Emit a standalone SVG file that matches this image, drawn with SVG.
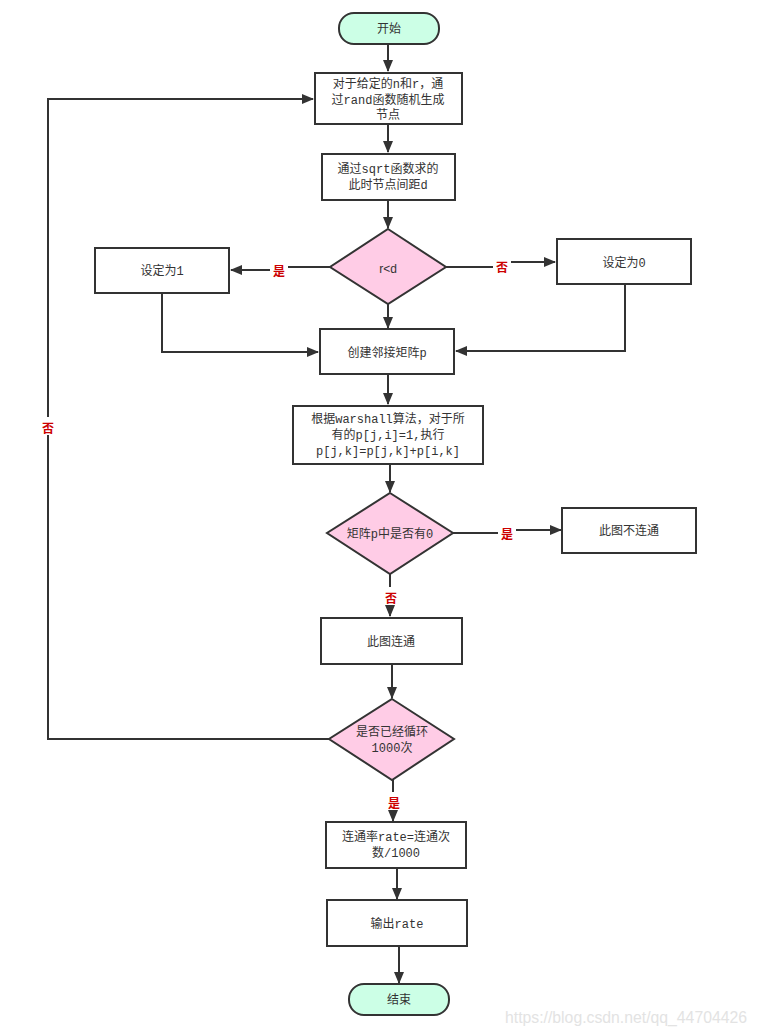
<svg xmlns="http://www.w3.org/2000/svg" width="758" height="1035" viewBox="0 0 758 1035">
<style>
.box{fill:#fff;stroke:#333;stroke-width:2}
.term{fill:#ccffe6;stroke:#333;stroke-width:2}
.dia{fill:#ffcce6;stroke:#333;stroke-width:2}
.t{font-family:"Liberation Mono","Noto Sans CJK SC",monospace;font-size:12px;fill:#333;text-anchor:middle;dominant-baseline:central;transform:translateY(1.5px)}
.s{font-family:"Liberation Sans","Noto Sans CJK SC",sans-serif;font-size:12px;fill:#333;text-anchor:middle;dominant-baseline:central;transform:translateY(1.5px)}
.lbl{font-family:"Noto Sans CJK SC",sans-serif;font-size:12px;font-weight:bold;fill:#cc0000;text-anchor:middle;dominant-baseline:central;transform:translateY(1px)}
.c{fill:none;stroke:#333;stroke-width:2}
.wm{font-family:"Liberation Sans",sans-serif;font-size:16px;fill:#e3e3e3}
</style>
<defs>
<marker id="ah" markerUnits="userSpaceOnUse" markerWidth="12" markerHeight="10" refX="11" refY="5" orient="auto">
<path d="M0,0 L12,5 L0,10 Z" fill="#333"/>
</marker>
</defs>
<g id="connectors">
<path class="c" d="M388,44 V71" marker-end="url(#ah)"/>
<path class="c" d="M388,124 V152" marker-end="url(#ah)"/>
<path class="c" d="M388,200 V228" marker-end="url(#ah)"/>
<path class="c" d="M330,267 H280 V270 H231" marker-end="url(#ah)"/>
<path class="c" d="M446,267 H502 V262 H555" marker-end="url(#ah)"/>
<path class="c" d="M388,304 V328" marker-end="url(#ah)"/>
<path class="c" d="M162,293 V352 H318" marker-end="url(#ah)"/>
<path class="c" d="M625,284 V351 H456" marker-end="url(#ah)"/>
<path class="c" d="M388,374 V404" marker-end="url(#ah)"/>
<path class="c" d="M390,464 V492" marker-end="url(#ah)"/>
<path class="c" d="M453,533 H507 V530 H561" marker-end="url(#ah)"/>
<path class="c" d="M390,574 V616" marker-end="url(#ah)"/>
<path class="c" d="M392,664 V698" marker-end="url(#ah)"/>
<path class="c" d="M329,739 H48 V99 H313" marker-end="url(#ah)"/>
<path class="c" d="M393,780 V821" marker-end="url(#ah)"/>
<path class="c" d="M397,868 V899" marker-end="url(#ah)"/>
<path class="c" d="M399,946 V983" marker-end="url(#ah)"/>
<rect x="270" y="260" width="18" height="18" fill="#fff"/>
<text class="lbl" x="279" y="269">是</text>
<rect x="493" y="256" width="18" height="18" fill="#fff"/>
<text class="lbl" x="502" y="265">否</text>
<rect x="498" y="523" width="18" height="18" fill="#fff"/>
<text class="lbl" x="507" y="532">是</text>
<rect x="382" y="587" width="18" height="18" fill="#fff"/>
<text class="lbl" x="391" y="596">否</text>
<rect x="39" y="417" width="18" height="18" fill="#fff"/>
<text class="lbl" x="48" y="426">否</text>
<rect x="385" y="792" width="18" height="18" fill="#fff"/>
<text class="lbl" x="394" y="801">是</text>
</g>
<g id="start"><rect class="term" x="339" y="13" width="100" height="31" rx="15" ry="15"/><text class="t" x="389" y="28">开始</text></g>
<g id="gen"><rect class="box" x="315" y="73" width="147" height="51"/><text class="t" x="388" y="83">对于给定的n和r，通</text><text class="t" x="388" y="99">过rand函数随机生成</text><text class="t" x="388" y="114">节点</text></g>
<g id="dist"><rect class="box" x="322" y="154" width="133" height="46"/><text class="t" x="388" y="168">通过sqrt函数求的</text><text class="t" x="388" y="184">此时节点间距d</text></g>
<g id="cmp"><polygon class="dia" points="388,229 446,267 388,304 330,267"/><text class="s" x="388" y="267">r&lt;d</text></g>
<g id="set1"><rect class="box" x="95" y="248" width="134" height="45"/><text class="t" x="162" y="270">设定为1</text></g>
<g id="set0"><rect class="box" x="557" y="239" width="134" height="45"/><text class="t" x="624" y="262">设定为0</text></g>
<g id="adj"><rect class="box" x="320" y="329" width="134" height="45"/><text class="t" x="387" y="352">创建邻接矩阵p</text></g>
<g id="warshall"><rect class="box" x="293" y="406" width="190" height="58"/><text class="t" x="388" y="418">根据warshall算法，对于所</text><text class="t" x="388" y="434">有的p[j,i]=1,执行</text><text class="t" x="388" y="450">p[j,k]=p[j,k]+p[i,k]</text></g>
<g id="haszero"><polygon class="dia" points="390,493 453,533 390,574 327,533"/><text class="t" x="390" y="533">矩阵p中是否有0</text></g>
<g id="disconn"><rect class="box" x="562" y="508" width="134" height="45"/><text class="t" x="629" y="530">此图不连通</text></g>
<g id="conn"><rect class="box" x="321" y="618" width="141" height="46"/><text class="t" x="391" y="641">此图连通</text></g>
<g id="loop"><polygon class="dia" points="392,699 454,739 392,780 329,739"/><text class="t" x="392" y="731">是否已经循环</text><text class="t" x="392" y="747">1000次</text></g>
<g id="rate"><rect class="box" x="326" y="822" width="140" height="46"/><text class="t" x="396" y="836">连通率rate=连通次</text><text class="t" x="396" y="852">数/1000</text></g>
<g id="out"><rect class="box" x="327" y="900" width="140" height="46"/><text class="t" x="397" y="923">输出rate</text></g>
<g id="end"><rect class="term" x="349" y="984" width="100" height="31" rx="15" ry="15"/><text class="t" x="399" y="999">结束</text></g>
<text class="wm" x="505" y="1023" textLength="242" lengthAdjust="spacingAndGlyphs">https://blog.csdn.net/qq_44704426</text>
</svg>
